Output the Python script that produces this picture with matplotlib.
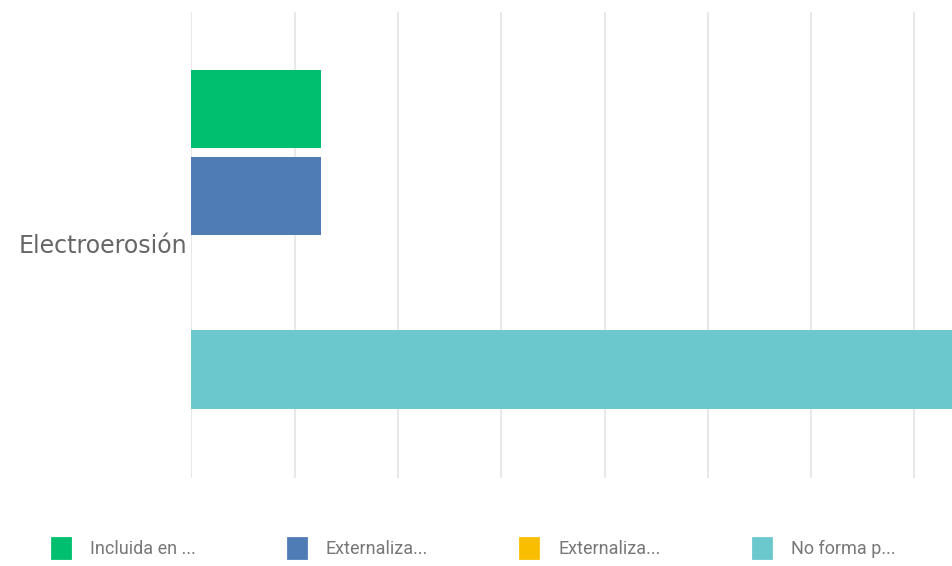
import matplotlib.pyplot as plt
from matplotlib.patches import Patch

# data
category = "Electroerosión"
series = ["Incluida en ...", "Externaliza...", "Externaliza...", "No forma p..."]
values = [12.5, 12.5, 0, 75]
colors = ["#00bf6f", "#507cb6", "#f9be00", "#6bc8cd"]
offsets = [-1.5, -0.5, 0.5, 1.5]

W, H = 953, 566
fig = plt.figure(figsize=(W / 100, H / 100), dpi=100)
# axes runs past the right edge of the picture (the original is cropped)
ax = fig.add_axes([191.5 / W, 1 - 478 / H, 826 / W, 466 / H])

for v, c, off in zip(values, colors, offsets):
    ax.barh(off, v, height=0.9, color=c, zorder=3)

ax.set_xlim(0, 80)
ax.set_ylim(2.75, -2.62)
ax.set_xticks(range(0, 81, 10))
ax.set_xticklabels([])
ax.tick_params(axis="x", length=0)
ax.grid(axis="x", color="#e8e8e8", linewidth=1.4, zorder=0)
ax.set_yticks([0.05])
ax.set_yticklabels([category], fontsize=17, color="#666666", family="DejaVu Sans")
ax.tick_params(axis="y", length=0, pad=3)
for s in ax.spines.values():
    s.set_visible(False)

handles = [Patch(facecolor=c, edgecolor=c, joinstyle="round", linewidth=2) for c in colors]
leg = fig.legend(handles, series, loc="center", bbox_to_anchor=(0.497, 1 - 548 / H),
                 ncol=4, frameon=False, prop={"family": "Roboto", "size": 13},
                 handlelength=1.0, handleheight=1.3, handletextpad=1.1, columnspacing=5.1)
for t in leg.get_texts():
    t.set_color("#777777")

fig.savefig("out.png", dpi=100)
